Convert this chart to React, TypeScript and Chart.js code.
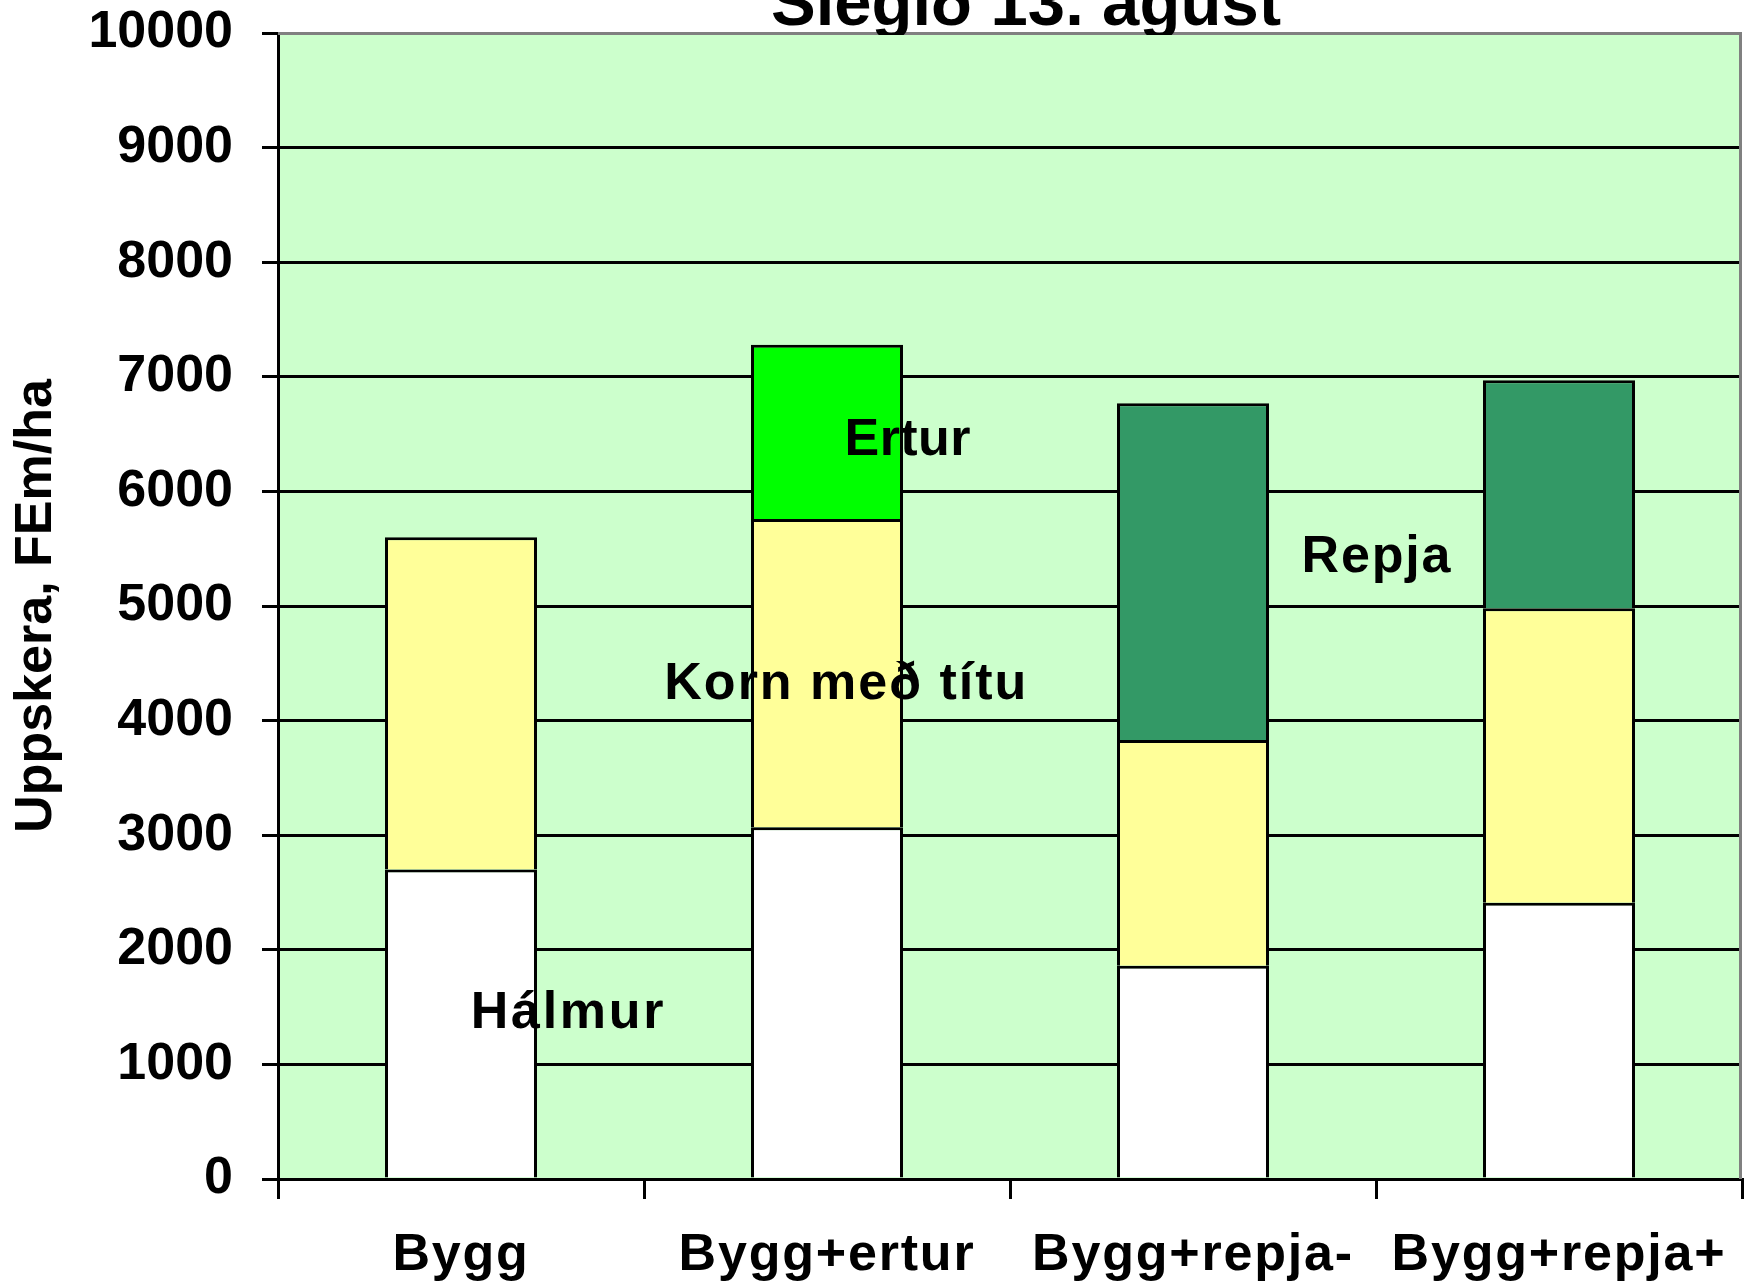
import React, { useEffect, useRef } from 'react';
import { Chart, registerables } from 'chart.js';

Chart.register(...registerables);

const categories = ['Bygg', 'Bygg+ertur', 'Bygg+repja-', 'Bygg+repja+'];
const halmur = [2700, 3070, 1860, 2410];
const korn = [2900, 2690, 1970, 2570];
const ertur = [null, 1520, null, null];
const repja = [null, null, 2940, 1990];

const yMin = 0;
const yMax = 10000;
const yStep = 1000;

const titleText = 'Slegið 13. ágúst';
const yAxisTitle = 'Uppskera, FEm/ha';

const labelTexts = ['Hálmur', 'Korn með títu', 'Ertur', 'Repja'];
const labelCatPos = [0.29, 1.05, 1.22, 2.5];
const labelValues = [1440, 4310, 6440, 5420];
const labelSpacing = [2.7, 2.0, 0.4, 1.8];

const FONT = '"Liberation Sans", Arial, sans-serif';

const plotPlugin = {
  id: 'plotDecor',
  beforeDraw(chart: any) {
    const { ctx, chartArea } = chart;
    ctx.letterSpacing = '0px';
    ctx.save();
    ctx.fillStyle = '#FFFFFF';
    ctx.fillRect(0, 0, chart.width, chart.height);
    ctx.fillStyle = '#CCFFCC';
    ctx.fillRect(chartArea.left, chartArea.top, chartArea.right - chartArea.left, chartArea.bottom - chartArea.top);
    ctx.restore();
  },
  afterDatasetsDraw(chart: any) {
    const { ctx, scales } = chart;
    ctx.save();
    ctx.fillStyle = '#000000';
    ctx.font = `bold 52px ${FONT}`;
    ctx.textAlign = 'center';
    ctx.textBaseline = 'middle';
    labelTexts.forEach((t, i) => {
      ctx.letterSpacing = `${labelSpacing[i]}px`;
      const x = scales.x.getPixelForValue(labelCatPos[i]);
      const y = scales.y.getPixelForValue(labelValues[i]);
      ctx.fillText(t, x + labelSpacing[i] / 2, y);
    });
    ctx.restore();
    // spacing for the x tick labels, drawn in a later layer
    ctx.letterSpacing = '1.8px';
  },
  afterDraw(chart: any) {
    const { ctx, chartArea } = chart;
    ctx.letterSpacing = '0px';
    ctx.save();
    ctx.strokeStyle = '#808080';
    ctx.lineWidth = 3;
    ctx.beginPath();
    ctx.moveTo(chartArea.left, chartArea.top + 0.5);
    ctx.lineTo(chartArea.right - 1.5, chartArea.top + 0.5);
    ctx.lineTo(chartArea.right - 1.5, chartArea.bottom);
    ctx.stroke();
    ctx.restore();

    ctx.save();
    ctx.beginPath();
    ctx.rect(0, 0, chart.width, chartArea.top + 2);
    ctx.clip();
    ctx.fillStyle = '#000000';
    ctx.font = `bold 67px ${FONT}`;
    ctx.textAlign = 'center';
    ctx.textBaseline = 'alphabetic';
    ctx.fillText(titleText, 1026, 25);
    ctx.restore();
  },
};

export default function App() {
  const ref = useRef<HTMLCanvasElement | null>(null);

  useEffect(() => {
    document.body.style.margin = '0';
    const canvas = ref.current;
    if (!canvas) return;
    const common = {
      borderColor: '#000000',
      borderWidth: 3,
      borderSkipped: 'start',
      categoryPercentage: 1,
      barPercentage: 152 / 366,
    };
    const chart = new Chart(canvas, {
      type: 'bar',
      data: {
        labels: categories,
        datasets: [
          { label: 'Hálmur', data: halmur, backgroundColor: '#FFFFFF', ...common },
          { label: 'Korn með títu', data: korn, backgroundColor: '#FFFF99', ...common },
          { label: 'Ertur', data: ertur, backgroundColor: '#00FF00', ...common },
          { label: 'Repja', data: repja, backgroundColor: '#339966', ...common },
        ] as any,
      },
      options: {
        animation: false,
        responsive: false,
        devicePixelRatio: 1,
        layout: { padding: { top: 33, right: 8, left: 0, bottom: 0 } },
        plugins: {
          legend: { display: false },
          tooltip: { enabled: false },
          title: { display: false },
        },
        scales: {
          x: {
            stacked: true,
            offset: true,
            afterFit: (s: any) => { s.height = 104; },
            grid: {
              display: true,
              offset: true,
              drawOnChartArea: false,
              drawTicks: true,
              tickLength: 20,
              color: '#000000',
              lineWidth: 3,
            },
            border: { display: true, color: '#000000', width: 3 },
            ticks: {
              z: 1,
              color: '#000000',
              font: { family: FONT, size: 52, weight: 'bold' },
              padding: 25,
              maxRotation: 0,
              autoSkip: false,
            },
          },
          y: {
            stacked: true,
            min: yMin,
            max: yMax,
            afterFit: (s: any) => {
              s.width = 278;
              s.paddingTop = 0;
              s.paddingBottom = 0;
            },
            grid: {
              color: (c: any) => (c.tick && c.tick.value === yMax ? '#808080' : '#000000'),
              tickColor: '#000000',
              lineWidth: 3,
              tickLength: 16,
              drawTicks: true,
            },
            border: { display: true, color: '#000000', width: 3 },
            ticks: {
              stepSize: yStep,
              color: '#000000',
              font: { family: FONT, size: 52, weight: 'bold' },
              padding: 29,
              callback: (v: any) => String(v),
            },
            title: {
              display: true,
              text: yAxisTitle,
              color: '#000000',
              font: { family: FONT, size: 52, weight: 'bold' },
              padding: { top: 5, bottom: 0 },
            },
          },
        },
      } as any,
      plugins: [plotPlugin],
    });
    return () => chart.destroy();
  }, []);

  return (
    <div style={{ position: 'absolute', left: 0, top: 0, width: 1750, height: 1283 }}>
      <canvas ref={ref} width={1750} height={1283} style={{ width: '1750px', height: '1283px', display: 'block' }} />
    </div>
  );
}
